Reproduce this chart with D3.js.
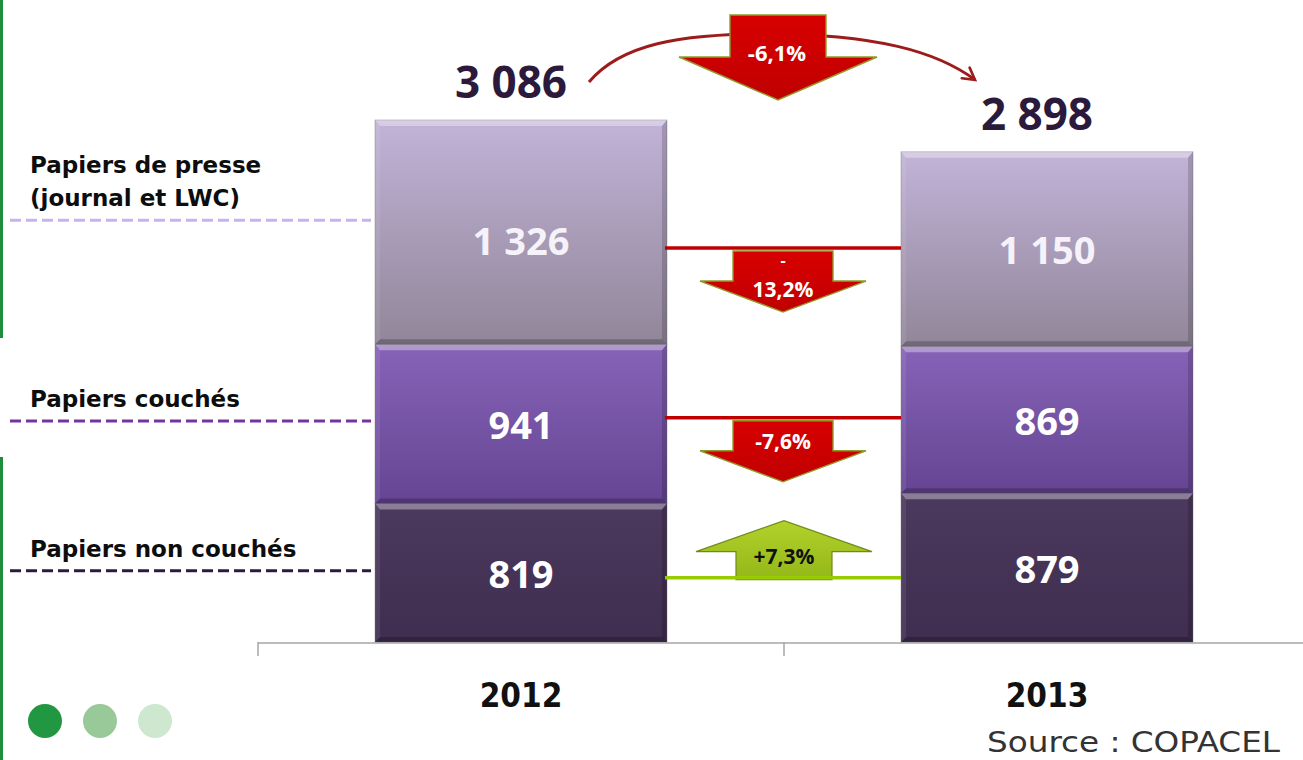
<!DOCTYPE html>
<html>
<head>
<meta charset="utf-8">
<script src="https://cdn.jsdelivr.net/npm/d3@7"></script>
<style>
  body { margin: 0; background: #fff; }
  svg { display: block; }
</style>
</head>
<body>
<div id="chart"></div>
<script>
// data (milliers de tonnes)
var years = ['2012', '2013'];
var categories = ['nonCouches', 'couches', 'presse'];
var categoryLabels = [['Papiers non couchés'], ['Papiers couchés'], ['Papiers de presse', '(journal et LWC)']];
var values2012 = [819, 941, 1326];
var values2013 = [879, 869, 1150];
var valueLabels2012 = ['819', '941', '1 326'];
var valueLabels2013 = ['879', '869', '1 150'];
var totals = [3086, 2898];
var totalLabels = ['3 086', '2 898'];
var changeLabels = ['+7,3%', '-7,6%', '-13,2%'];
var totalChangeLabel = '-6,1%';
var sourceText = 'Source : COPACEL';

var width = 1303, height = 760;

var svg = d3.select('#chart').append('svg')
  .attr('width', width)
  .attr('height', height);

var defs = svg.append('defs');

// colours per stack layer, top -> bottom of the gradient
var layerColors = [
  ['#4c395e', '#3f2e50'],
  ['#8763b7', '#654593'],
  ['#c2b3d8', '#918699']
];
var lineColors = ['#2c1b40', '#7434a4', '#c5b5ec'];

layerColors.forEach(function(c, i) {
  var g = defs.append('linearGradient')
    .attr('id', 'grad' + i)
    .attr('x1', 0).attr('y1', 0).attr('x2', 0).attr('y2', 1);
  g.append('stop').attr('offset', '0%').attr('stop-color', c[0]);
  g.append('stop').attr('offset', '100%').attr('stop-color', c[1]);
});

var redGrad = defs.append('linearGradient').attr('id', 'redGrad')
  .attr('x1', 0).attr('y1', 0).attr('x2', 0).attr('y2', 1);
redGrad.append('stop').attr('offset', '0%').attr('stop-color', '#d80000');
redGrad.append('stop').attr('offset', '100%').attr('stop-color', '#c00000');

var greenGrad = defs.append('linearGradient').attr('id', 'greenGrad')
  .attr('x1', 0).attr('y1', 0).attr('x2', 0).attr('y2', 1);
greenGrad.append('stop').attr('offset', '0%').attr('stop-color', '#b2d12a');
greenGrad.append('stop').attr('offset', '100%').attr('stop-color', '#94b81a');

defs.append('marker')
  .attr('id', 'curveHead')
  .attr('viewBox', '0 0 10 10')
  .attr('refX', 8).attr('refY', 5)
  .attr('markerWidth', 5.5).attr('markerHeight', 5.5)
  .attr('orient', 'auto')
  .append('path')
  .attr('d', 'M1,1 L8,5 L1,9')
  .attr('fill', 'none')
  .attr('stroke', '#9c1c1c')
  .attr('stroke-width', 1.6)
  .attr('stroke-linecap', 'round');

// scales
var x = d3.scaleBand().domain(years).range([258, 1310]);
var barW = x.bandwidth() * 0.555;
var y = d3.scaleLinear().domain([0, d3.max(totals)]).range([642, 120]);

var rows = years.map(function(yr, i) {
  var vals = i === 0 ? values2012 : values2013;
  var r = { year: yr };
  categories.forEach(function(c, k) { r[c] = vals[k]; });
  return r;
});
var series = d3.stack().keys(categories)(rows);

function barX(yr) { return x(yr) + (x.bandwidth() - barW) / 2; }
function mid(seg) { return (y(seg[0]) + y(seg[1])) / 2; }

// left green edge
svg.append('rect').attr('x', 0).attr('y', 0).attr('width', 3).attr('height', 338).attr('fill', '#1e8c3c');
svg.append('rect').attr('x', 0).attr('y', 457).attr('width', 3).attr('height', 303).attr('fill', '#1e8c3c');

// axis
var axis = svg.append('g').attr('class', 'axis');
axis.append('line')
  .attr('x1', x.range()[0]).attr('x2', width)
  .attr('y1', y(0) + 1).attr('y2', y(0) + 1)
  .attr('stroke', '#a6a6a6').attr('stroke-width', 1.5);
axis.selectAll('line.tick')
  .data(years)
  .enter().append('line')
  .attr('class', 'tick')
  .attr('x1', function(d) { return x(d); })
  .attr('x2', function(d) { return x(d); })
  .attr('y1', y(0)).attr('y2', y(0) + 14)
  .attr('stroke', '#a6a6a6').attr('stroke-width', 1.5);

axis.selectAll('text.year')
  .data(years)
  .enter().append('text')
  .attr('class', 'year')
  .attr('x', function(d) { return x(d) + x.bandwidth() / 2; })
  .attr('y', 707)
  .attr('text-anchor', 'middle')
  .attr('font-family', '"DejaVu Sans Condensed", "DejaVu Sans", sans-serif')
  .attr('font-stretch', 'condensed')
  .attr('font-weight', 'bold')
  .attr('font-size', 33)
  .attr('fill', '#111')
  .text(function(d) { return d; });

// stacked bars with a bevel
var b = 5;
series.forEach(function(s, i) {
  var layer = svg.append('g').attr('class', 'layer layer-' + s.key);
  s.forEach(function(seg) {
    var x0 = barX(seg.data.year), x1 = x0 + barW;
    var y0 = y(seg[1]), y1 = y(seg[0]);
    layer.append('rect')
      .attr('x', x0).attr('y', y0)
      .attr('width', barW).attr('height', y1 - y0)
      .attr('fill', 'url(#grad' + i + ')')
      .attr('stroke', 'rgba(90,90,90,0.35)').attr('stroke-width', 1);
    var bevels = [
      [[x0, y0], [x1, y0], [x1 - b, y0 + b + 1], [x0 + b, y0 + b + 1], 'rgba(255,255,255,0.35)'],
      [[x1, y0], [x1, y1], [x1 - b, y1 - b], [x1 - b, y0 + b + 1], 'rgba(0,0,0,0.16)'],
      [[x0, y1], [x1, y1], [x1 - b, y1 - b], [x0 + b, y1 - b], 'rgba(0,0,0,0.22)'],
      [[x0, y0], [x0, y1], [x0 + b, y1 - b], [x0 + b, y0 + b + 1], 'rgba(255,255,255,0.08)']
    ];
    bevels.forEach(function(p) {
      layer.append('polygon')
        .attr('points', p.slice(0, 4).map(function(q) { return q.join(','); }).join(' '))
        .attr('fill', p[4]);
    });
  });
});

// value labels inside the bars
var valueFont = '"Open Sans", "DejaVu Sans", sans-serif';
series.forEach(function(s, i) {
  svg.selectAll('text.val-' + i)
    .data(s)
    .enter().append('text')
    .attr('class', 'val-' + i)
    .attr('x', function(d) { return barX(d.data.year) + barW / 2; })
    .attr('y', function(d, k) { return mid(d) + 15 + (i === 2 && k === 0 ? 8 : 0); })
    .attr('text-anchor', 'middle')
    .attr('font-family', valueFont)
    .attr('font-weight', 'bold')
    .attr('font-size', 38)
    .attr('fill', i === 2 ? '#f6f2fa' : '#ffffff')
    .text(function(d, k) { return (k === 0 ? valueLabels2012 : valueLabels2013)[i]; });
});

// totals above the bars
svg.selectAll('text.total')
  .data(years)
  .enter().append('text')
  .attr('class', 'total')
  .attr('x', function(d) { return barX(d) + barW / 2 - 10; })
  .attr('y', function(d, i) { return y(totals[i]) - 22; })
  .attr('text-anchor', 'middle')
  .attr('font-family', valueFont)
  .attr('font-weight', 'bold')
  .attr('font-size', 44)
  .attr('fill', '#2b1a3b')
  .text(function(d, i) { return totalLabels[i]; });

// category labels with dashed leaders on the left (aligned to the 2012 bar)
var leaderShift = [-2, -3, -12];
series.forEach(function(s, i) {
  var ly = mid(s[0]) + leaderShift[i];
  svg.append('line')
    .attr('x1', 10).attr('x2', barX(years[0]) - 4)
    .attr('y1', ly).attr('y2', ly)
    .attr('stroke', lineColors[i])
    .attr('stroke-width', 3)
    .attr('stroke-dasharray', '11,5');
  var lines = categoryLabels[i];
  lines.forEach(function(t, k) {
    svg.append('text')
      .attr('x', 30)
      .attr('y', ly - 14 - (lines.length - 1 - k) * 33)
      .attr('font-family', '"DejaVu Sans", sans-serif')
      .attr('font-weight', 'bold')
      .attr('font-size', 23)
      .attr('fill', '#0d0d0d')
      .text(t);
  });
});

// change arrows between the bars
function arrowPath(cx, start, base, tip, sh, hh) {
  return 'M' + (cx - sh) + ',' + start + 'H' + (cx + sh) + 'V' + base +
    'H' + (cx + hh) + 'L' + cx + ',' + tip + 'L' + (cx - hh) + ',' + base +
    'H' + (cx - sh) + 'Z';
}

var gapX0 = barX(years[0]) + barW, gapX1 = barX(years[1]);
var gapMid = (gapX0 + gapX1) / 2;
var connectorShift = [10, -2, -1];

series.forEach(function(s, i) {
  var ly = mid(s[1]) + connectorShift[i];
  var label = changeLabels[i];
  var up = label.charAt(0) === '+';
  var g = svg.append('g').attr('class', 'change');
  g.append('line')
    .attr('x1', gapX0 - 2).attr('x2', gapX1)
    .attr('y1', ly).attr('y2', ly)
    .attr('stroke', up ? '#99cc00' : '#c00000')
    .attr('stroke-width', 3.5);
  if (up) {
    g.insert('path', 'line')
      .attr('d', arrowPath(gapMid, ly + 2, ly - 26, ly - 57, 48, 88))
      .attr('fill', 'url(#greenGrad)')
      .attr('stroke', '#6f8a1a').attr('stroke-width', 1.2);
    g.append('text')
      .attr('x', gapMid).attr('y', ly - 14)
      .attr('text-anchor', 'middle')
      .attr('font-family', valueFont).attr('font-weight', 'bold')
      .attr('font-size', 21).attr('fill', '#111')
      .text(label);
  } else {
    g.append('path')
      .attr('d', arrowPath(gapMid - 1, ly + 3, ly + 33, ly + 64, 50, 83))
      .attr('fill', 'url(#redGrad)')
      .attr('stroke', '#8f9a2a').attr('stroke-width', 1.4);
    var parts = label.length > 5 ? ['-', label.slice(1)] : [label];
    parts.forEach(function(p, k) {
      g.append('text')
        .attr('x', gapMid - 1)
        .attr('y', parts.length > 1 ? ly + 18 + k * 31 : ly + 31)
        .attr('text-anchor', 'middle')
        .attr('font-family', valueFont).attr('font-weight', 'bold')
        .attr('font-size', parts.length > 1 && k === 0 ? 16 : 21)
        .attr('fill', '#fff')
        .text(p);
    });
  }
});

// total change: curved arrow and big down arrow
var cx0 = barX(years[0]) + barW / 2, cx1 = barX(years[1]) + barW / 2;
var curve = d3.path();
curve.moveTo(cx0 + 68, y(totals[0]) - 38);
curve.bezierCurveTo(cx0 + 100, y(totals[0]) - 76, cx0 + 160, y(totals[0]) - 86, gapMid - 20, y(totals[0]) - 86);
curve.bezierCurveTo(cx1 - 170, y(totals[0]) - 86, cx1 - 110, y(totals[1]) - 100, cx1 - 72, y(totals[1]) - 72);
svg.append('path')
  .attr('d', curve.toString())
  .attr('fill', 'none')
  .attr('stroke', '#9c1c1c')
  .attr('stroke-width', 3)
  .attr('marker-end', 'url(#curveHead)');

var tipY = y(totals[0]) - 20;
svg.append('path')
  .attr('d', arrowPath(gapMid - 6, tipY - 85, tipY - 43, tipY, 48, 99))
  .attr('fill', 'url(#redGrad)')
  .attr('stroke', '#8f9a2a').attr('stroke-width', 1.4);
svg.append('text')
  .attr('x', gapMid - 7).attr('y', tipY - 39)
  .attr('text-anchor', 'middle')
  .attr('font-family', valueFont).attr('font-weight', 'bold')
  .attr('font-size', 22).attr('fill', '#fff')
  .text(totalChangeLabel);

// decorative dots and source
var dotColors = ['#219742', '#99c899', '#cde8cf'];
svg.selectAll('circle.dot')
  .data(dotColors)
  .enter().append('circle')
  .attr('class', 'dot')
  .attr('cx', function(d, i) { return 45 + i * 55; })
  .attr('cy', 721)
  .attr('r', 17)
  .attr('fill', function(d) { return d; });

svg.append('text')
  .attr('x', 1280).attr('y', 752)
  .attr('text-anchor', 'end')
  .attr('font-family', '"DejaVu Sans Condensed", "DejaVu Sans", sans-serif')
  .attr('font-stretch', 'condensed')
  .attr('font-size', 29)
  .attr('fill', '#333')
  .attr('textLength', 293)
  .attr('lengthAdjust', 'spacingAndGlyphs')
  .text(sourceText);
</script>
</body>
</html>
